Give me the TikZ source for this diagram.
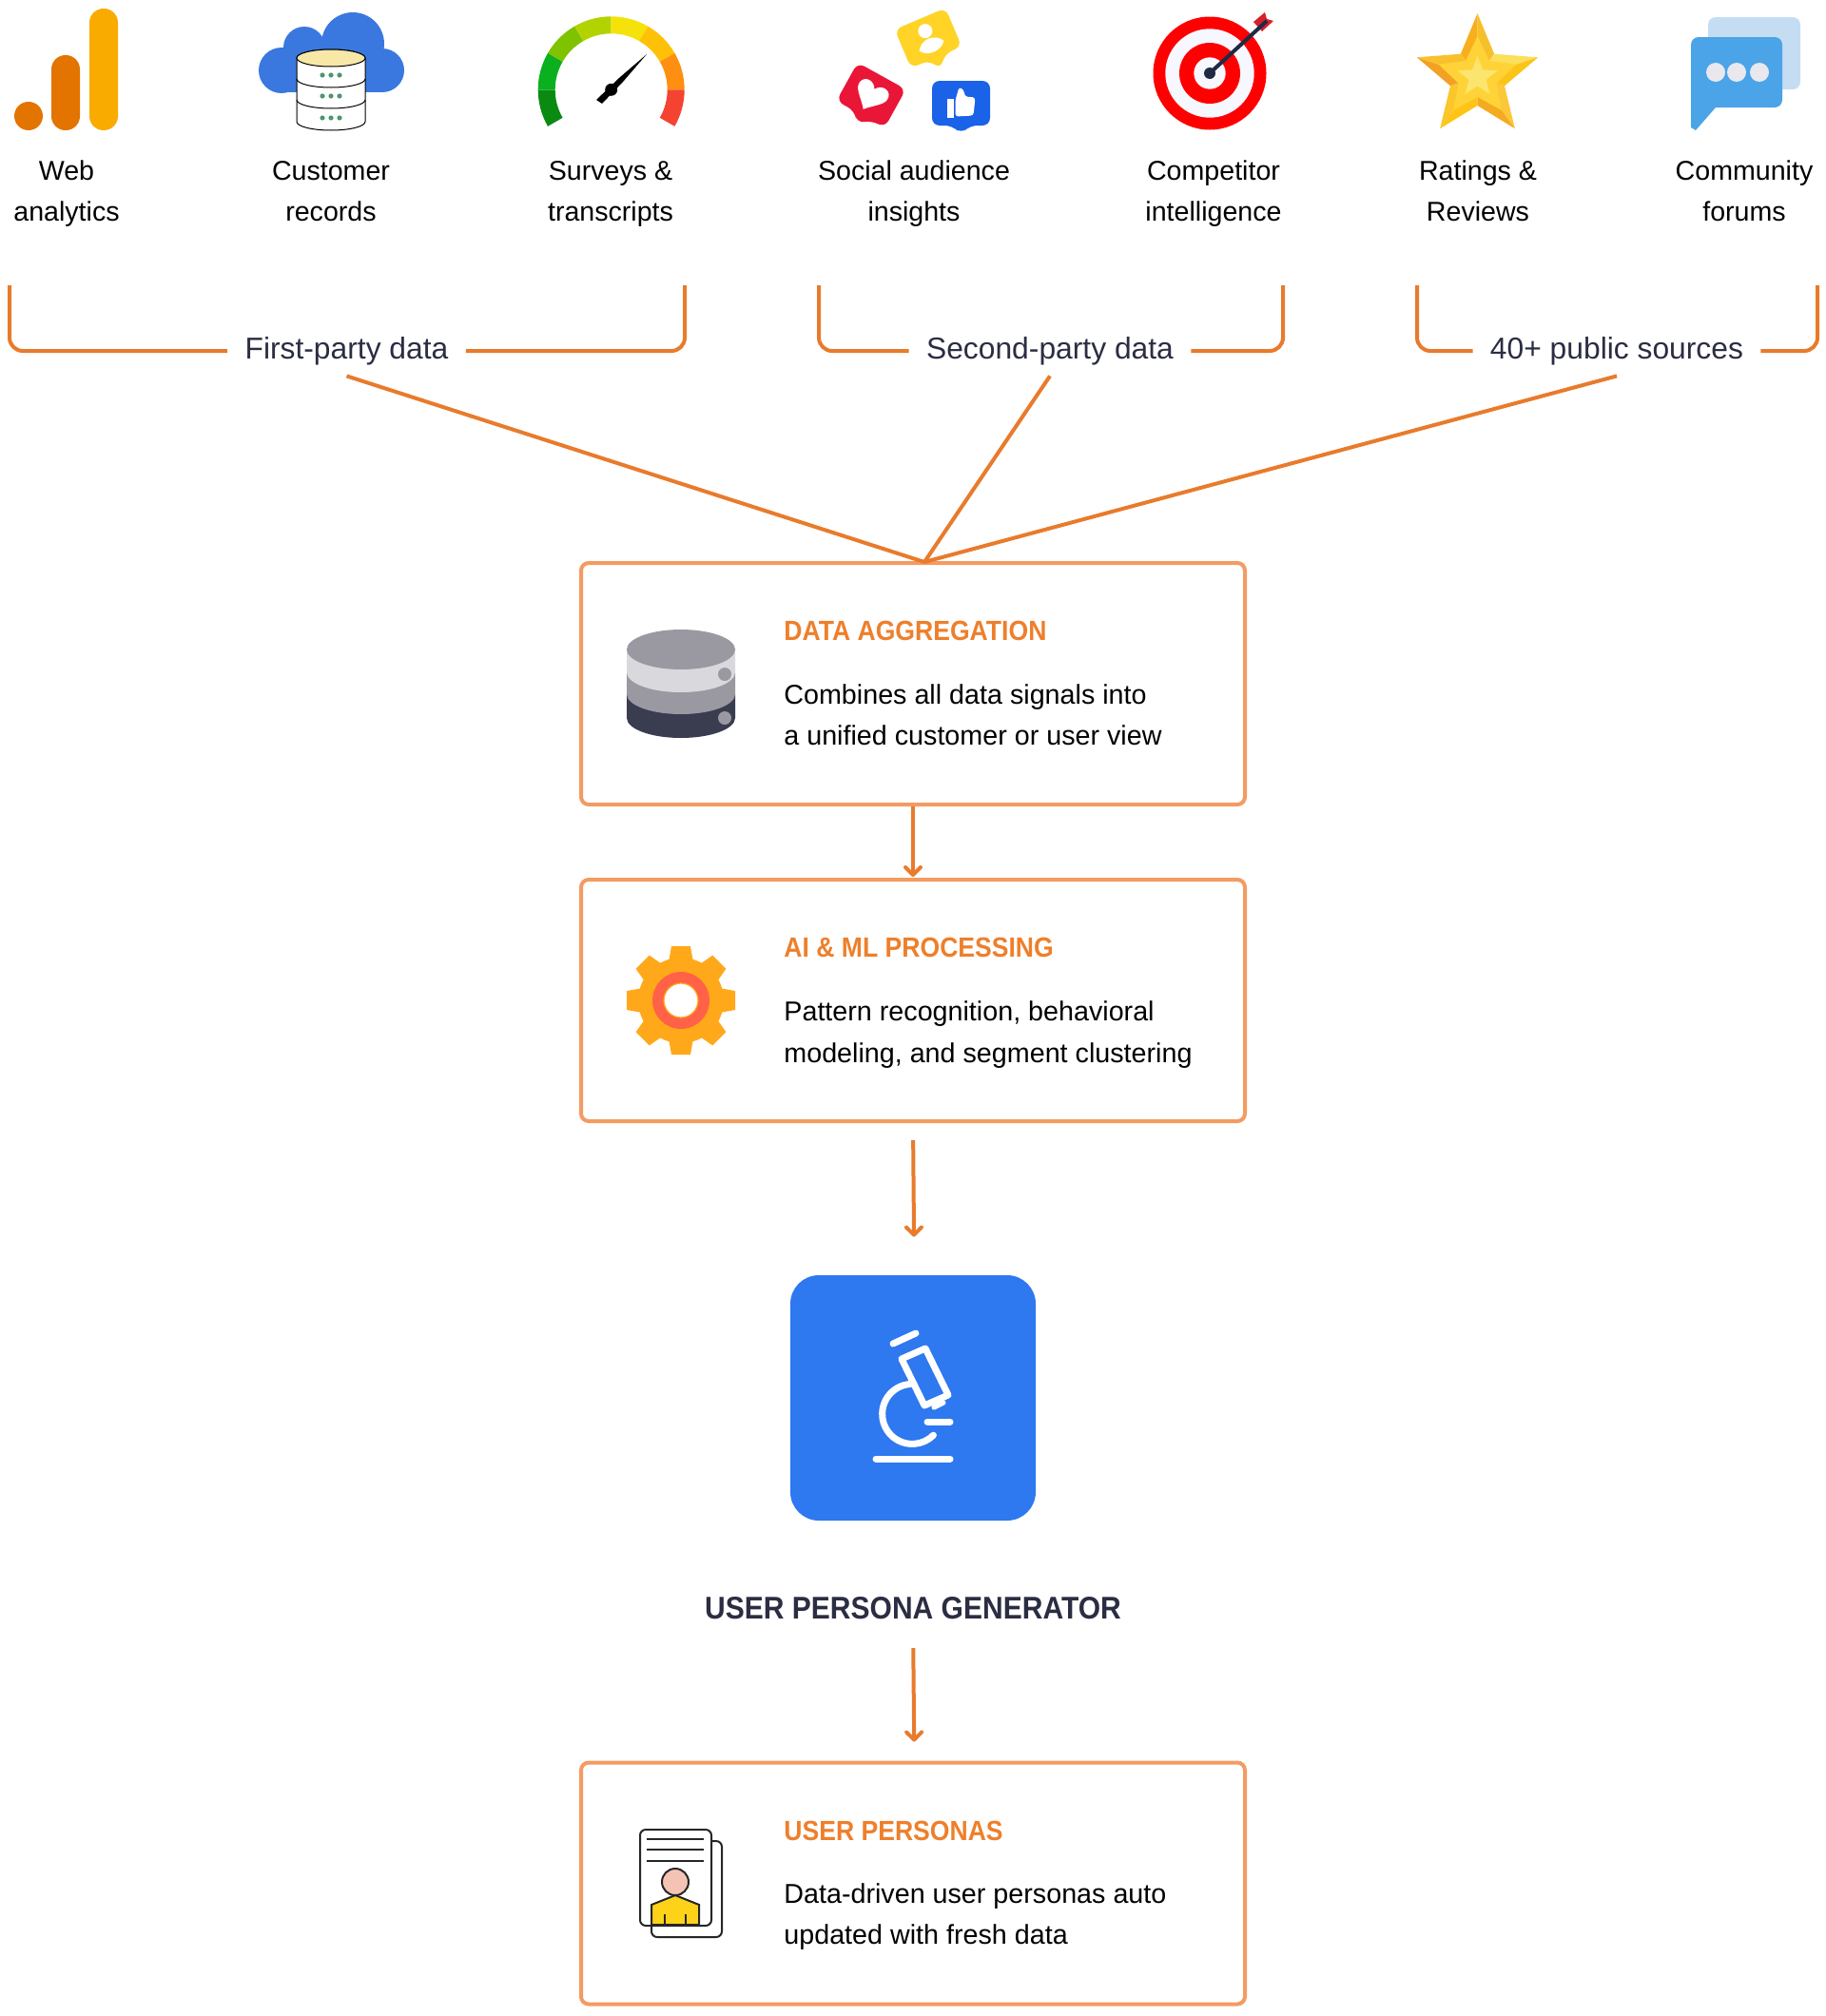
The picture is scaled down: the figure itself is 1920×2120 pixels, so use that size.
\documentclass[tikz,border=0pt]{standalone}
\usepackage{fontspec}
\setmainfont{Liberation Sans}
\newfontfamily\narrowfont[FakeStretch=0.91]{Liberation Sans}
\usetikzlibrary{arrows.meta}
\definecolor{lineorange}{HTML}{E87B2C}
\definecolor{boxorange}{HTML}{F49B62}
\definecolor{headorange}{HTML}{EE7F2B}
\definecolor{navytext}{HTML}{2B2D42}
\definecolor{genblue}{HTML}{2E78F0}
\definecolor{cloudblue}{HTML}{3A78E0}
\definecolor{barorange}{HTML}{E37400}
\definecolor{baryellow}{HTML}{F9AB00}
\definecolor{cream}{HTML}{F7E8A8}
\definecolor{dotgreen}{HTML}{4C966E}
\definecolor{likeyellow}{HTML}{FFD426}
\definecolor{likered}{HTML}{EA1638}
\definecolor{likeblue}{HTML}{1A62E8}
\definecolor{dartnavy}{HTML}{1F2A44}
\definecolor{dartred}{HTML}{D6202C}
\definecolor{paleblue}{HTML}{C5DDF2}
\definecolor{chatblue}{HTML}{4BA3E8}
\definecolor{chatdot}{HTML}{E8E8EE}
\definecolor{discgrey}{HTML}{9A99A2}
\definecolor{disclight}{HTML}{D9D9DD}
\definecolor{discdark}{HTML}{3A3C50}
\definecolor{gearorange}{HTML}{FFA91A}
\definecolor{gearred}{HTML}{FF6246}
\definecolor{shirt}{HTML}{FFD21A}
\definecolor{skin}{HTML}{F5C3B4}
\definecolor{starmid}{HTML}{FFD338}
\definecolor{starcore}{HTML}{FBE56E}
\begin{document}
\begin{tikzpicture}[x=0.5pt, y=-0.5pt,
				    source/.style={align=center, inner sep=0pt, text=black, font=\fontsize{14.3}{21.5}\selectfont},
				    group/.style={inner xsep=9pt, inner ysep=0pt, minimum height=26pt, text=navytext, font=\fontsize{15.9}{20}\selectfont},
				    stage/.style={draw=boxorange, line width=2pt, rounded corners=4pt, minimum width=349pt, minimum height=127pt, inner sep=0pt},
				    heading/.style={anchor=west, inner sep=0pt, text=headorange, font=\narrowfont\bfseries\fontsize{14.6}{18}\selectfont},
				    detail/.style={anchor=west, inner sep=0pt, align=left, text=black, font=\fontsize{14.35}{21.7}\selectfont},
				    bracket/.style={draw=lineorange, line width=2pt, rounded corners=7pt},
				    link/.style={draw=lineorange, line width=2pt},
				    flow/.style={draw=lineorange, line width=2pt, -{Straight Barb[length=4pt, width=8pt, round]}},
				    iconat/.style={shift={(#1)}, yscale=-1},
				    micro/.style={draw=white, line width=3.5pt, line cap=round, line join=round},
				    thin ink/.style={draw=black!85, line width=1pt}]
	\useasboundingbox (0, 0) rectangle (1920, 2120);

	\begin{scope}[iconat={30, 122}]
		\fill[barorange] (0, 0) circle (15);
		\fill[barorange, rounded corners=7.4pt] (24, -15) rectangle (54, 64);
		\fill[baryellow, rounded corners=7.4pt] (64, -15) rectangle (94, 113);
	\end{scope}

	\begin{scope}[iconat={348, 56}]
		\fill[cloudblue] (-52, -18) circle (24);
		\fill[cloudblue] (-28, 6) circle (22);
		\fill[cloudblue] (23, 10) circle (33);
		\fill[cloudblue] (54, -18) circle (23);
		\fill[cloudblue] (-52, -41) rectangle (54, 0);
		\fill[white, draw=black, line width=0.5pt] (-36, -5) -- (-36, -72) arc[start angle=180, end angle=360, x radius=36, y radius=9] -- (36, -5) arc[start angle=0, end angle=180, x radius=36, y radius=9] -- cycle;
		\draw[black, line width=0.5pt] (-36, -27) arc[start angle=180, end angle=360, x radius=36, y radius=9];
		\draw[black, line width=0.5pt] (-36, -49) arc[start angle=180, end angle=360, x radius=36, y radius=9];
		\fill[cream, draw=black, line width=0.5pt] (0, -5) circle (36 and 9);
		\foreach \dy in {-23, -45, -68} {
			\foreach \dx in {-9, 0, 9} {
				\fill[dotgreen] (\dx, \dy) circle (2.6);
			}
		}
	\end{scope}

	\begin{scope}[iconat={642.7, 94.3}]
		\foreach \a/\c in {180/0B8A12, 150/0AB01E, 120/7FC200, 90/B3D300, 60/F5E20A, 30/FFC107, 0/FF8F10, -30/F44330} {
			\definecolor{seg}{HTML}{\c}
			\fill[seg] (\a:59) arc[start angle=\a, delta angle=30, radius=59] -- (\a+30:77) arc[start angle=\a+30, delta angle=-30, radius=77] -- cycle;
		}
		\fill[black] (37.3, 37.3) -- (12.5, 8.5) -- (-9.7, -14.7) -- (-15.7, -10.7) -- (8.5, 12.5) -- cycle;
		\fill[black] (0, 0) circle (6.5);
	\end{scope}

	\begin{scope}[iconat={976, 40}, rotate=-23]
		\fill[likeyellow, rounded corners=4pt] (-29, 22) -- (29, 22) -- (29, -22) -- (10, -22) -- (-1, -35) -- (-8, -22) -- (-29, -22) -- cycle;
		\fill[white] (0, 8) circle (7.5);
		\fill[white] (-14, -9) .. controls (-8, 2) and (8, 2) .. (14, -9) .. controls (8, -18) and (-8, -18) .. (-14, -9) -- cycle;
	\end{scope}
	\begin{scope}[iconat={916, 100}, rotate=29]
		\fill[likered, rounded corners=4pt] (-29, 23) -- (29, 23) -- (29, -23) -- (14, -23) -- (1, -33) -- (-7, -23) -- (-29, -23) -- cycle;
		\fill[white] (0, -17) .. controls (-8, -7) and (-19, -2) .. (-17, 7) .. controls (-15, 15) and (-4, 15) .. (0, 7) .. controls (4, 15) and (15, 15) .. (17, 7) .. controls (19, -2) and (8, -7) .. (0, -17) -- cycle;
	\end{scope}
	\begin{scope}[iconat={1010.5, 108.5}]
		\fill[likeblue, rounded corners=4pt] (-30.5, 23.5) -- (30.5, 23.5) -- (30.5, -23.5) -- (9, -23.5) -- (0, -32.5) -- (-9, -23.5) -- (-30.5, -23.5) -- cycle;
		\fill[white] (-15, -15) rectangle (-8, 5);
		\fill[white, rounded corners=1.5pt] (-6, 3) -- (-2, 17) -- (3, 14) -- (4, 7) -- (15, 6) -- (13, -13) -- (-6, -14) -- cycle;
	\end{scope}

	\begin{scope}[iconat={1272, 77}]
		\fill[red] (0, 0) circle (59.5);
		\fill[white!97!blue] (0, 0) circle (46.7);
		\fill[red] (0, 0) circle (32);
		\fill[white!97!blue] (0, 0) circle (16.7);
		\fill[dartred] (46, 54) -- (58, 64) -- (60, 57) -- (67, 55) -- (55, 44) -- cycle;
		\draw[dartnavy, line width=2pt] (0, 0) -- (60, 55);
		\fill[dartnavy] (0, 0) circle (6);
	\end{scope}

	\begin{scope}[iconat={1553.5, 81}]
		\foreach \a/\cl/\cr in {90/F9AE1E/F6C02C, 162/F2A125/F9C02E, 234/FFC414/FBC52C, 306/FBC83A/F5AA22, 18/FCDF5A/FBC418} {
			\definecolor{armone}{HTML}{\cl}
			\definecolor{armtwo}{HTML}{\cr}
			\fill[armone] (0, 0) -- (\a:67) -- (\a+36:30) -- cycle;
			\fill[armtwo] (0, 0) -- (\a:67) -- (\a-36:30) -- cycle;
		}
		\fill[starmid] (90:43) \foreach \a in {126, 162, ..., 414} {
			-- (\a:{mod(\a-90, 72) == 0 ? 43 : 21})
		} -- cycle;
		\fill[starcore] (90:22) \foreach \a in {126, 162, ..., 414} {
			-- (\a:{mod(\a-90, 72) == 0 ? 22 : 9.5})
		} -- cycle;
	\end{scope}

	\begin{scope}[iconat={1826, 76}]
		\fill[paleblue, rounded corners=4pt] (-30, -18) rectangle (67, 58);
		\fill[chatblue, rounded corners=4pt] (-48, -37) rectangle (48, 37);
		\fill[chatblue] (-48, -30) -- (-48, -58) -- (-43, -61) -- (-22, -37) -- (-22, -30) -- cycle;
		\foreach \dx in {-22, 0, 24} {
			\fill[chatdot] (\dx, 0) circle (10);
		}
	\end{scope}

	\node[source] (s1) at (70, 202.5) {\strut Web\\\strut analytics};
	\node[source] (s2) at (348, 202.5) {\strut Customer\\\strut records};
	\node[source] (s3) at (642, 202.5) {\strut Surveys \&\\\strut transcripts};
	\node[source] (s4) at (961, 202.5) {\strut Social audience\\\strut insights};
	\node[source] (s5) at (1276, 202.5) {\strut Competitor\\\strut intelligence};
	\node[source] (s6) at (1554, 202.5) {\strut Ratings \&\\\strut Reviews};
	\node[source] (s7) at (1834, 202.5) {\strut Community\\\strut forums};

	\node[group] (first) at (364.5, 369) {First-party data};
	\node[group] (second) at (1104, 369) {Second-party data};
	\node[group] (public) at (1700, 369) {40+ public sources};

	\coordinate (f1) at (10, 300);
	\coordinate (f2) at (720, 300);
	\coordinate (g1) at (861, 300);
	\coordinate (g2) at (1349, 300);
	\coordinate (h1) at (1490, 300);
	\coordinate (h2) at (1911, 300);
	\coordinate (merge) at (972, 591);

	\draw[bracket] (first.west) -| (f1);
	\draw[bracket] (first.east) -| (f2);
	\draw[bracket] (second.west) -| (g1);
	\draw[bracket] (second.east) -| (g2);
	\draw[bracket] (public.west) -| (h1);
	\draw[bracket] (public.east) -| (h2);

	\node[stage] (aggregation) at (960, 719) {};
	\node[stage] (processing) at (960, 1052) {};
	\node[fill=genblue, rounded corners=15pt, minimum size=129pt, inner sep=0pt] (generator) at (960, 1470) {};
	\node[inner sep=0pt, text=navytext, font=\narrowfont\bfseries\fontsize{16.5}{20}\selectfont] (genlabel) at (960, 1691) {USER PERSONA GENERATOR};
	\node[stage] (personas) at (960, 1980.5) {};

	\path[link] (first.south) edge (merge);
	\path[link] (second.south) edge (merge);
	\path[link] (public.south) edge (merge);
	\draw[flow, shorten >=0.5pt] (aggregation.south) -- (processing.north);
	\draw[flow, shorten <=9pt, shorten >=20pt] (processing.south) -- ([xshift=0.7pt]generator.north);
	\draw[flow, shorten <=15pt, shorten >=10pt] (genlabel.south) -- ([xshift=0.7pt]personas.north);

	\node[heading] (h_agg) at (824, 663) {DATA AGGREGATION};
	\node[detail] (t_agg) at (824, 753.5) {\strut Combines all data signals into\\\strut a unified customer or user view};
	\node[heading] (h_pro) at (824, 996) {AI \& ML PROCESSING};
	\node[detail] (t_pro) at (824, 1087) {\strut Pattern recognition, behavioral\\\strut modeling, and segment clustering};
	\node[heading] (h_per) at (824, 1925) {USER PERSONAS};
	\node[detail] (t_per) at (824, 2014) {\strut Data-driven user personas auto\\\strut updated with fresh data};

	\begin{scope}[iconat={716, 755}]
		\fill[discdark] (-57, 25) -- (-57, 0) arc[start angle=180, end angle=360, x radius=57, y radius=21] -- (57, 25) -- cycle;
		\fill[discgrey] (-57, 48) -- (-57, 25) arc[start angle=180, end angle=360, x radius=57, y radius=21] -- (57, 48) -- cycle;
		\fill[disclight] (-57, 72) -- (-57, 48) arc[start angle=180, end angle=360, x radius=57, y radius=21] -- (57, 72) -- cycle;
		\fill[discgrey] (0, 72) circle (57 and 21);
		\fill[discgrey] (46, 46) circle (7);
		\fill[discgrey] (46, 0) circle (7);
	\end{scope}

	\begin{scope}[iconat={716, 1052}]
		\foreach \a in {0, 45, ..., 315} {
			\fill[gearorange, rotate=\a] (-13, 40) -- (-10, 57) -- (10, 57) -- (13, 40) -- cycle;
		}
		\fill[gearorange] (0, 0) circle (45);
		\fill[gearred] (0, 0) circle (30);
		\fill[white, draw=gearorange, line width=0.6pt] (0, 0) circle (18);
	\end{scope}

	\begin{scope}[iconat={716, 1980}]
		\draw[thin ink, fill=white, rounded corners=3pt] (-31, 44) rectangle (43, -57);
		\draw[thin ink, fill=white, rounded corners=3pt] (-43, 56) rectangle (32, -45);
		\foreach \dy in {46, 35, 23} {
			\draw[thin ink] (-36, \dy) -- (24, \dy);
		}
		\fill[shirt, thin ink] (-31, -44) -- (-31, -23) -- (-6, -13) -- (19, -23) -- (19, -44) -- cycle;
		\draw[thin ink] (-17, -44) -- (-17, -33);
		\draw[thin ink] (5, -44) -- (5, -33);
		\fill[skin, thin ink] (-6, 1) circle (14);
	\end{scope}

	\draw[micro] (939, 1413) -- (963, 1402);
	\draw[micro] (948, 1429) -- (973, 1418) -- (997, 1467) -- (972, 1478) -- cycle;
	\draw[micro, line width=2.6pt] (982, 1480) -- (992, 1475);
	\draw[micro] (957, 1455.5) arc[start angle=-94, delta angle=-221, radius=31.5];
	\draw[micro] (975, 1495) -- (999, 1495);
	\draw[micro] (921, 1534) -- (999, 1534);
\end{tikzpicture}
\end{document}
